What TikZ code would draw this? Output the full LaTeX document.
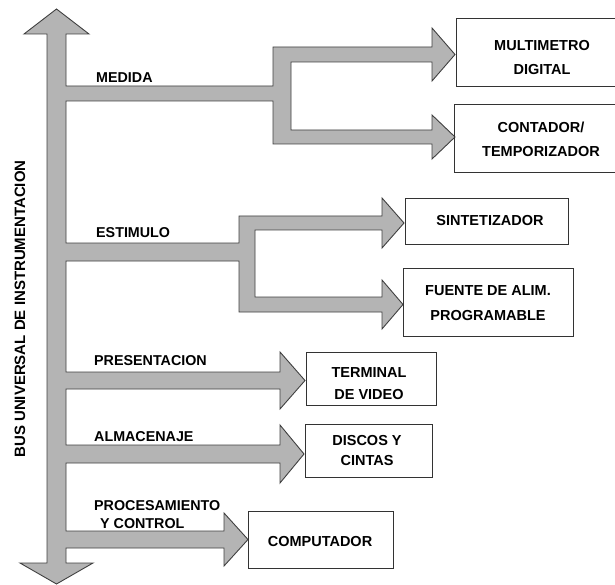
\documentclass[tikz,border=0pt]{standalone}
\usepackage{fontspec}
\setmainfont{Liberation Sans}
\begin{document}
\begin{tikzpicture}[x=1pt,y=-1pt,
  busfill/.style={fill=busgray,draw=black!75,line width=0.9pt,line join=miter},
  devbox/.style={draw=black!80,line width=0.8pt,rectangle,inner sep=0pt},
  devtext/.style={font=\fontsize{14.5}{24}\selectfont\bfseries,align=center,inner sep=0pt,anchor=north},
  lbl/.style={font=\fontsize{14.3}{18}\selectfont\bfseries,align=left,inner sep=0pt,anchor=north west}]
\definecolor{busgray}{RGB}{180,180,180}
\useasboundingbox (0,0) rectangle (615,585);
% bus and branches as one shape
\draw[busfill] (56.5,9) -- (89,34) -- (66,34)
  -- (66,86) -- (273,86) -- (273,47) -- (432,47) -- (432,28) -- (455,54.5) -- (432,81) -- (432,62)
  -- (291,62) -- (291,130) -- (432,130) -- (432,115) -- (455,137) -- (432,159) -- (432,144)
  -- (273,144) -- (273,101) -- (66,101)
  -- (66,243) -- (239,243) -- (239,216) -- (382,216) -- (382,198) -- (404,223) -- (382,248) -- (382,230)
  -- (255,230) -- (255,297) -- (382,297) -- (382,280) -- (403,304.5) -- (382,329) -- (382,312)
  -- (239,312) -- (239,261) -- (66,261)
  -- (66,372) -- (280,372) -- (280,352) -- (305,380.5) -- (280,409) -- (280,389) -- (66,389)
  -- (66,445) -- (280,445) -- (280,425) -- (304,454) -- (280,483) -- (280,463) -- (66,463)
  -- (66,531) -- (224,531) -- (224,513) -- (248,539.5) -- (224,566) -- (224,548) -- (66,548)
  -- (66,563) -- (93,563) -- (56.5,584) -- (20,563) -- (47,563)
  -- (47,34) -- (24,34) -- cycle;
% boxes
\node[devbox,minimum width=174pt,minimum height=68pt] (b1) at (543,52) {};
\node[devbox,minimum width=176pt,minimum height=68pt] (b2) at (542,138) {};
\node[devbox,minimum width=163pt,minimum height=46pt] (b3) at (486.5,221) {};
\node[devbox,minimum width=170pt,minimum height=68pt] (b4) at (488,302) {};
\node[devbox,minimum width=130pt,minimum height=53pt] (b5) at (371,378.5) {};
\node[devbox,minimum width=127pt,minimum height=53pt] (b6) at (368.5,450.5) {};
\node[devbox,minimum width=145pt,minimum height=57pt] (b7) at (320.5,539.5) {};
% box texts
\node[devtext] (t1) at (542,40) {MULTIMETRO\\DIGITAL};
\node[devtext] (t2) at (541,122) {CONTADOR/\\TEMPORIZADOR};
\node[devtext] (t3) at (490,215) {SINTETIZADOR};
\node[devtext] (t4) at (488,285) {FUENTE DE ALIM.\\[1pt]PROGRAMABLE};
\node[devtext,font=\fontsize{14.5}{22}\selectfont\bfseries] (t5) at (369,367) {TERMINAL\\DE VIDEO};
\node[devtext,font=\fontsize{14.5}{20}\selectfont\bfseries] (t6) at (367,435) {DISCOS Y\\CINTAS};
\node[devtext] (t7) at (320,536) {COMPUTADOR};
% branch labels
\node[lbl] (l1) at (96,72) {MEDIDA};
\node[lbl] (l2) at (96,227) {ESTIMULO};
\node[lbl] (l3) at (94,355) {PRESENTACION};
\node[lbl] (l4) at (94,431) {ALMACENAJE};
\node[lbl] (l5) at (94,500) {PROCESAMIENTO\\\hspace*{6pt}Y CONTROL};
% bus label
\node[rotate=90,inner sep=0pt,font=\fontsize{15}{18}\selectfont\bfseries] (bus) at (20,309) {BUS UNIVERSAL DE INSTRUMENTACION};
\end{tikzpicture}
\end{document}
